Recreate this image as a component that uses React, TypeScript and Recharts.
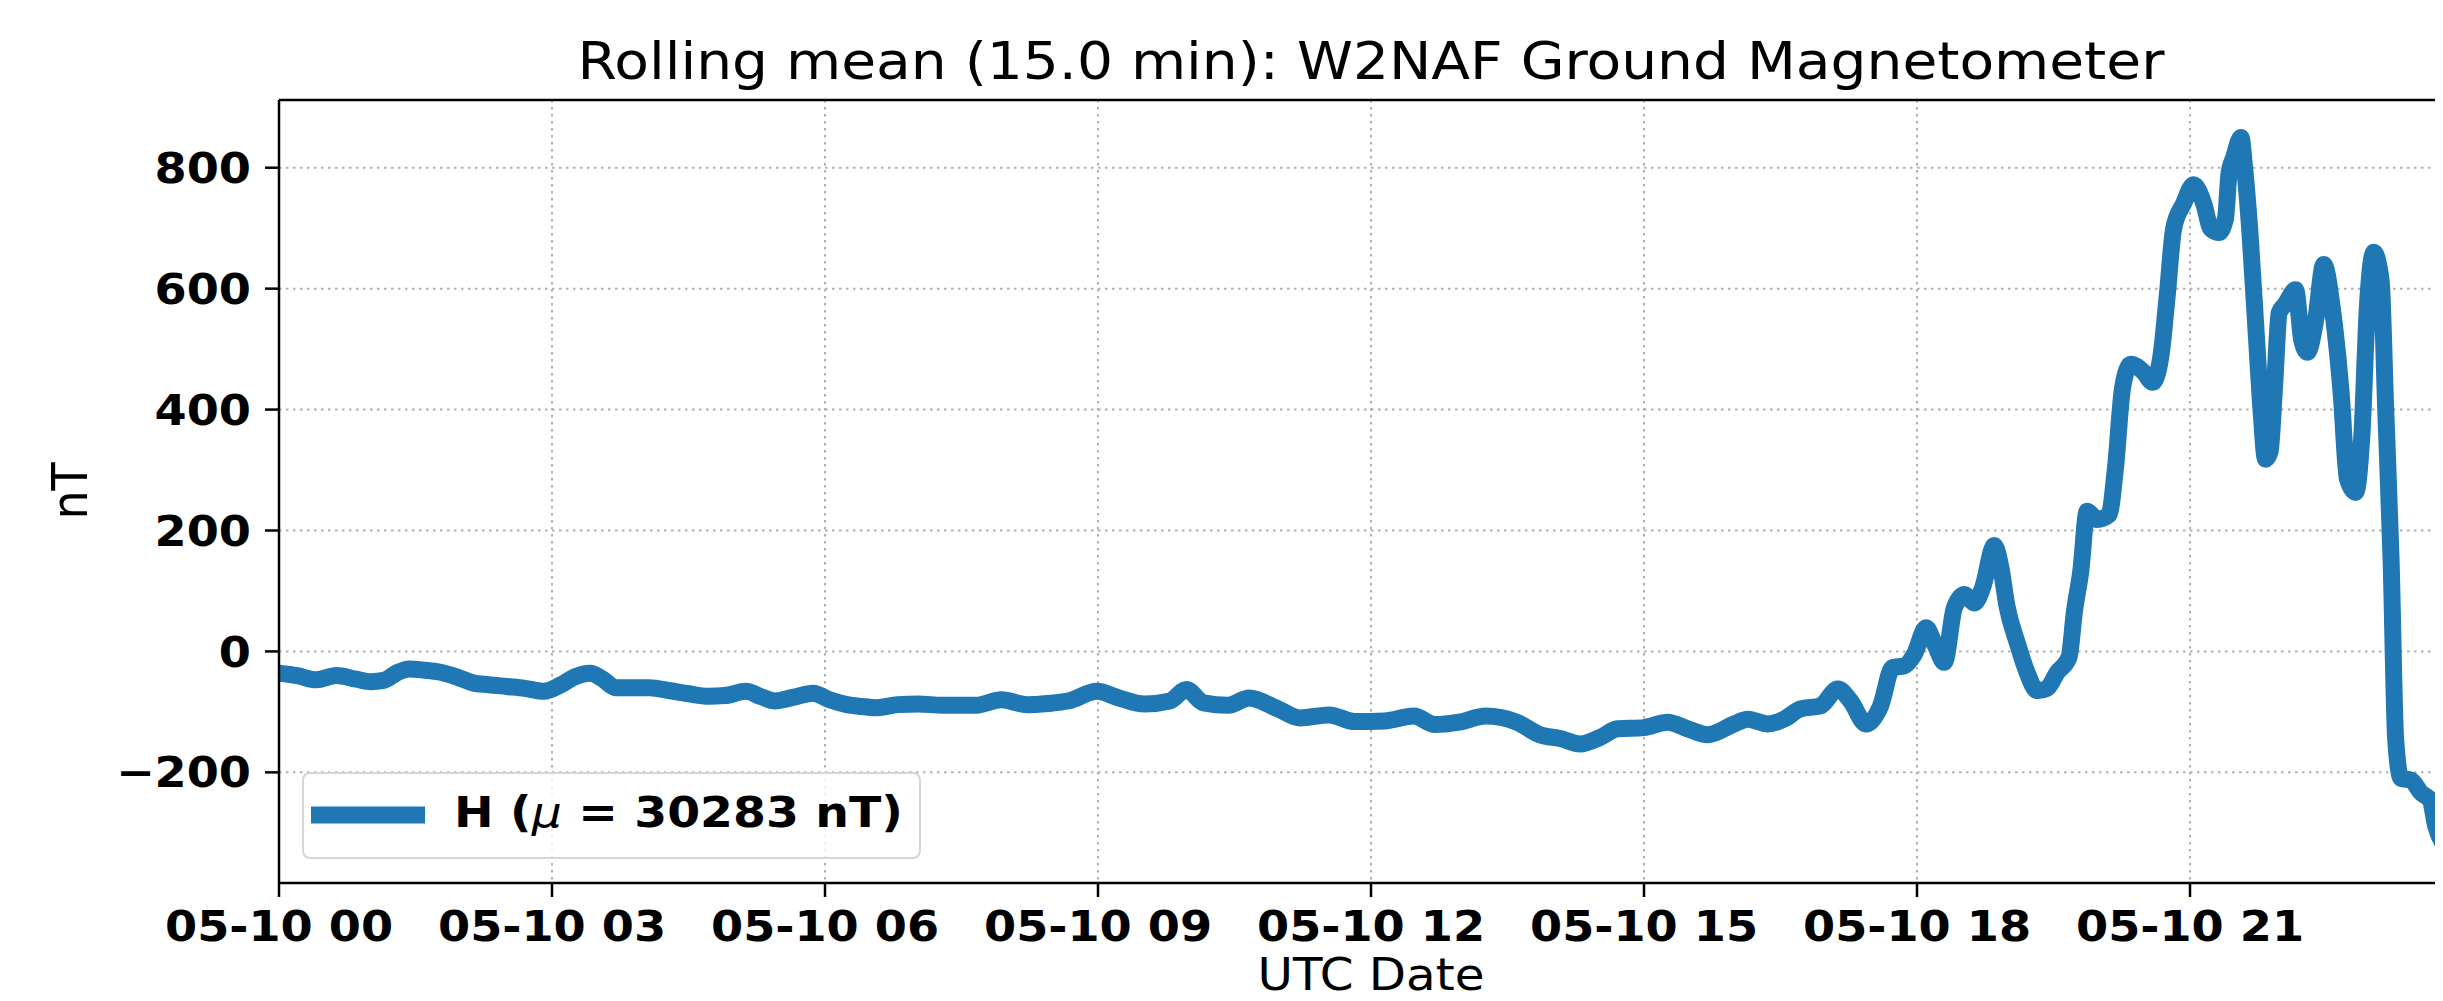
import React from 'react';
import { LineChart, Line, XAxis, YAxis, CartesianGrid, Legend, ReferenceLine } from 'recharts';

// hours since 2024-05-10 00:00 UTC
const hours = [
  0, 0.2, 0.41, 0.63, 0.85, 1.01, 1.15, 1.3, 1.43, 1.6,
  1.76, 1.95, 2.13, 2.3, 2.5, 2.7, 2.91, 3.1, 3.25, 3.42,
  3.55, 3.7, 3.9, 4.07, 4.3, 4.5, 4.72, 4.9, 5.13, 5.3,
  5.45, 5.65, 5.87, 6.05, 6.24, 6.4, 6.57, 6.8, 7.03, 7.29,
  7.66, 7.94, 8.22, 8.45, 8.67, 8.99, 9.23, 9.51, 9.79, 9.97,
  10.16, 10.43, 10.66, 10.99, 11.22, 11.54, 11.82, 12.15, 12.47, 12.7,
  12.97, 13.26, 13.6, 13.86, 14.08, 14.3, 14.52, 14.71, 15.0, 15.26,
  15.48, 15.7, 15.99, 16.14, 16.36, 16.54, 16.72, 16.94, 17.13, 17.27,
  17.44, 17.6, 17.73, 17.86, 17.97, 18.1, 18.2, 18.3, 18.41, 18.52,
  18.63, 18.72, 18.85, 18.92, 18.99, 19.1, 19.21, 19.32, 19.43, 19.54,
  19.67, 19.73, 19.8, 19.87, 19.98, 20.11, 20.18, 20.26, 20.35, 20.49,
  20.59, 20.68, 20.75, 20.82, 20.93, 21.04, 21.15, 21.23, 21.32, 21.39,
  21.43, 21.48, 21.56, 21.6, 21.66, 21.73, 21.78, 21.83, 21.88, 21.93,
  21.98, 22.05, 22.16, 22.23, 22.29, 22.38, 22.47, 22.56, 22.66, 22.73,
  22.82, 22.89, 22.95, 23.02, 23.1, 23.15, 23.21, 23.26, 23.32, 23.43,
  23.54, 23.64, 23.7, 23.79, 23.9,
];

// H component minus its mean, nT
const hValues = [
  -36, -40, -47, -40, -46, -50, -48, -35, -29, -31,
  -34, -42, -52, -55, -58, -61, -66, -55, -42, -36,
  -45, -60, -60, -60, -65, -70, -74, -73, -66, -75,
  -82, -76, -69, -80, -88, -91, -93, -88, -87, -89,
  -89, -80, -88, -86, -82, -66, -77, -87, -82, -63,
  -85, -89, -77, -96, -110, -105, -116, -115, -107, -121,
  -117, -107, -117, -138, -144, -153, -142, -128, -126, -117,
  -128, -138, -120, -112, -120, -112, -95, -90, -62, -82,
  -120, -90, -27, -24, -5, 39, 10, -18, 72, 94,
  80, 105, 175, 140, 74, 15, -35, -65, -61, -35,
  -10, 66, 133, 232, 218, 226, 302, 437, 475, 462,
  445, 488, 589, 699, 741, 772, 741, 699, 693, 716,
  792, 817, 850, 800, 690, 520, 400, 318, 330, 440,
  560, 575, 598, 513, 495, 547, 640, 572, 429, 285,
  263, 361, 572, 660, 614, 403, 150, -145, -210, -213,
  -234, -246, -289, -320, -335,
];

const xTicks = [0, 3, 6, 9, 12, 15, 18, 21];
const xTickLabels = ['05-10 00', '05-10 03', '05-10 06', '05-10 09', '05-10 12', '05-10 15', '05-10 18', '05-10 21'];
const yTicks = [-200, 0, 200, 400, 600, 800];
const xDomain = [0, 24];
const yDomain = [-383, 912];

const title = 'Rolling mean (15.0 min): W2NAF Ground Magnetometer';
const xLabel = 'UTC Date';
const yLabel = 'nT';
const seriesName = 'H (μ = 30283 nT)';

const data = hours.map((h, i) => ({ h, H: hValues[i] }));

const FONT = 'DejaVu Sans';
const STRETCH = 1.1; // reference text is a little wide

const XTick = (props: any) => {
  const { x, y, payload } = props;
  const label = xTickLabels[xTicks.indexOf(payload.value)];
  return (
    <text
      transform={`translate(${x},${y}) scale(${STRETCH},1)`}
      dy="0.73em"
      textAnchor="middle"
      fontFamily={FONT}
      fontWeight="bold"
      fontSize={42}
      fill="#000"
    >
      {label}
    </text>
  );
};

const YTick = (props: any) => {
  const { x, y, payload } = props;
  const v = payload.value;
  return (
    <text
      transform={`translate(${x},${y}) scale(${STRETCH},1)`}
      dy="0.36em"
      textAnchor="end"
      fontFamily={FONT}
      fontWeight="bold"
      fontSize={42}
      fill="#000"
    >
      {v < 0 ? `\u2212${-v}` : `${v}`}
    </text>
  );
};

const renderLegend = (props: any) => {
  const item = props.payload && props.payload[0];
  const name: string = (item && item.value) || seriesName;
  const color = (item && item.color) || '#1f77b4';
  const [before, after] = name.split('μ');
  return (
    <div
      style={{
        width: 619,
        height: 87,
        boxSizing: 'border-box',
        border: '2px solid rgba(204,204,204,0.8)',
        borderRadius: 8,
        background: 'rgba(255,255,255,0.8)',
      }}
    >
      <svg width={615} height={83} style={{ display: 'block' }}>
        <line x1={7} x2={121} y1={41} y2={41} stroke={color} strokeWidth={17} />
        <text
          transform={`translate(150,53) scale(${STRETCH},1)`}
          fontFamily={FONT}
          fontWeight="bold"
          fontSize={43}
          fill="#000"
        >
          {before}
          <tspan fontStyle="italic" fontWeight="normal">μ</tspan>
          {after}
        </text>
      </svg>
    </div>
  );
};

export default function App() {
  return (
    <div
      style={{
        position: 'relative',
        width: 2443,
        height: 1001,
        margin: -8,
        overflow: 'hidden',
        background: '#fff',
      }}
    >
      <LineChart width={2500} height={1001} data={data} margin={{ top: 100, right: 37, bottom: 0, left: 0 }}>
        <CartesianGrid stroke="#b0b0b0" strokeWidth={2} strokeDasharray="2.5 4.5" />
        <XAxis
          dataKey="h"
          type="number"
          domain={xDomain}
          ticks={xTicks}
          allowDataOverflow
          height={118}
          tickSize={14}
          tickMargin={13}
          tick={<XTick />}
          axisLine={{ stroke: '#000', strokeWidth: 2.5 }}
          tickLine={{ stroke: '#000', strokeWidth: 2.5 }}
        />
        <YAxis
          type="number"
          domain={yDomain}
          ticks={yTicks}
          allowDataOverflow
          width={279}
          tickSize={14}
          tickMargin={14}
          tick={<YTick />}
          axisLine={{ stroke: '#000', strokeWidth: 2.5 }}
          tickLine={{ stroke: '#000', strokeWidth: 2.5 }}
        />
        <ReferenceLine y={yDomain[1]} stroke="#000" strokeWidth={2.5} />
        <Line
          type="monotone"
          dataKey="H"
          name={seriesName}
          stroke="#1f77b4"
          strokeWidth={17}
          strokeLinejoin="round"
          dot={false}
          activeDot={false}
          isAnimationActive={false}
        />
        <Legend
          layout="vertical"
          align="center"
          verticalAlign="middle"
          content={renderLegend}
          wrapperStyle={{ position: 'absolute', left: 302, top: 772, width: 619, height: 87 }}
        />
      </LineChart>
      <svg
        width={2443}
        height={1001}
        style={{ position: 'absolute', left: 0, top: 0, pointerEvents: 'none' }}
      >
        <text
          transform={`translate(1371,79) scale(${STRETCH},1)`}
          textAnchor="middle"
          fontFamily={FONT}
          fontSize={51.5}
          fill="#000"
        >
          {title}
        </text>
        <text
          transform={`translate(1371,990) scale(${STRETCH},1)`}
          textAnchor="middle"
          fontFamily={FONT}
          fontSize={44}
          fill="#000"
        >
          {xLabel}
        </text>
        <text
          transform="translate(87,491) rotate(-90) scale(1,1.1)"
          textAnchor="middle"
          fontFamily={FONT}
          fontSize={46}
          fill="#000"
        >
          {yLabel}
        </text>
      </svg>
    </div>
  );
}
